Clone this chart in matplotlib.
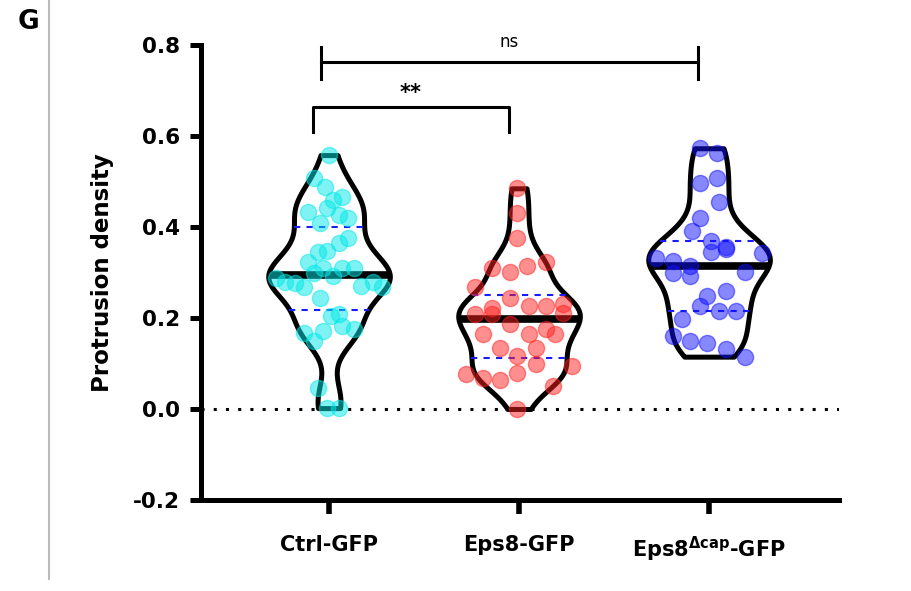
import numpy as np
import matplotlib
matplotlib.use("Agg")
from matplotlib import pyplot as plt
from matplotlib import cbook, mlab

# data
labels = ["Ctrl-GFP", "Eps8-GFP", r"Eps8$^{\Delta cap}$-GFP"]

ctrl = [0.558, 0.507, 0.487, 0.465, 0.459, 0.432, 0.441, 0.426, 0.419, 0.408,
        0.375, 0.364, 0.348, 0.344, 0.322, 0.309, 0.298, 0.309, 0.309, 0.293,
        0.287, 0.278, 0.276, 0.267, 0.271, 0.278, 0.267, 0.245, 0.205, 0.209,
        0.172, 0.183, 0.176, 0.168, 0.150, 0.046, 0.002, 0.002]
ctrl_dx = [0.0, -0.08, -0.02, 0.07, 0.02, -0.11, -0.01, 0.05, 0.10, -0.05,
           0.10, 0.05, -0.01, -0.06, -0.11, -0.03, -0.08, 0.07, 0.13, 0.02,
           -0.28, -0.23, -0.18, -0.13, 0.17, 0.23, 0.28, -0.05, 0.01, 0.05,
           -0.03, 0.07, 0.13, -0.13, -0.08, -0.06, -0.01, 0.05]

eps8 = [0.485, 0.430, 0.375, 0.309, 0.300, 0.315, 0.322, 0.267, 0.245, 0.223,
        0.227, 0.227, 0.231, 0.209, 0.209, 0.212, 0.187, 0.176, 0.165, 0.165,
        0.165, 0.135, 0.135, 0.117, 0.099, 0.095, 0.077, 0.068, 0.064, 0.079,
        0.051, 0.0]
eps8_dx = [-0.01, -0.01, -0.01, -0.14, -0.05, 0.04, 0.14, -0.23, -0.05, -0.14,
           0.05, 0.14, 0.23, -0.23, -0.14, 0.23, -0.05, 0.14, -0.19, 0.05,
           0.19, -0.10, 0.09, -0.01, 0.09, 0.28, -0.28, -0.19, -0.10, -0.01,
           0.18, -0.01]

dcap = [0.573, 0.562, 0.507, 0.496, 0.454, 0.419, 0.392, 0.370, 0.355, 0.344,
        0.351, 0.342, 0.331, 0.326, 0.315, 0.300, 0.298, 0.293, 0.260, 0.249,
        0.227, 0.216, 0.216, 0.198, 0.161, 0.150, 0.146, 0.132, 0.115]
dcap_dx = [-0.05, 0.04, 0.04, -0.05, 0.05, -0.05, -0.09, 0.01, 0.09, 0.01,
           0.09, 0.28, -0.28, -0.19, -0.10, 0.19, -0.19, -0.10, 0.09, -0.01,
           -0.05, 0.05, 0.14, -0.14, -0.19, -0.10, -0.01, 0.09, 0.19]

data = [ctrl, eps8, dcap]
jitter = [ctrl_dx, eps8_dx, dcap_dx]
colors = ["#00e8e8", "#ff2020", "#1010ff"]

plt.rcParams["mathtext.fontset"] = "dejavusans"
plt.rcParams["mathtext.default"] = "bf"

fig = plt.figure(figsize=(9.11, 5.91), dpi=100)
ax = fig.add_axes([0.2206, 0.154, 0.921 - 0.2206, 0.9239 - 0.154])

pos = np.arange(len(data))
width = 0.64


def kde(X, coords):
    return mlab.GaussianKDE(X, 0.33).evaluate(coords)


stats = cbook.violin_stats(data, kde, points=300)
parts = ax.violin(stats, positions=pos, widths=width,
                  showmeans=False, showextrema=False, showmedians=False)
for b in parts["bodies"]:
    b.set_facecolor("white")
    b.set_edgecolor("black")
    b.set_linewidth(3.6)
    b.set_alpha(1)
    b.set_joinstyle("round")

for i, st in enumerate(stats):
    coords = st["coords"]
    half = 0.5 * width * st["vals"] / st["vals"].max()
    med = np.median(data[i])
    q1, q3 = np.percentile(data[i], [25, 75])
    for q in (q1, q3):
        hw = np.interp(q, coords, half)
        ax.plot([i - hw, i + hw], [q, q], color="#1a1aff", lw=1.5,
                ls=(0, (3, 3)), zorder=3)
    hw = np.interp(med, coords, half)
    ax.plot([i - hw, i + hw], [med, med], color="black", lw=5.5,
            solid_capstyle="butt", zorder=3)

for i in range(len(data)):
    ax.scatter(i + np.array(jitter[i]), data[i], s=135, color=colors[i],
               alpha=0.5, edgecolors=colors[i], linewidths=1, zorder=4)

ax.axhline(0, color="black", lw=2.2, ls=(0, (1, 3)), zorder=1)

ax.set_xlim(-0.674, 2.684)
ax.set_ylim(-0.2, 0.8)
ax.set_yticks([-0.2, 0.0, 0.2, 0.4, 0.6, 0.8])
ax.set_yticklabels(["-0.2", "0.0", "0.2", "0.4", "0.6", "0.8"])
ax.set_xticks(pos)
ax.set_xticklabels(labels)

for s in ["top", "right"]:
    ax.spines[s].set_visible(False)
for s in ["left", "bottom"]:
    ax.spines[s].set_linewidth(3.6)
    ax.spines[s].set_capstyle("projecting")

ax.tick_params(axis="y", length=8, width=3.6, pad=7, labelsize=15.5)
ax.tick_params(axis="x", length=10, width=4, pad=15, labelsize=15)
for t in ax.get_yticklabels() + ax.get_xticklabels():
    t.set_fontweight("bold")

ax.set_ylabel("Protrusion density", fontsize=16.5, fontweight="bold", labelpad=14)

# significance brackets
ax.plot([-0.042, -0.042], [0.725, 0.796], color="black", lw=2.2, clip_on=False)
ax.plot([1.942, 1.942], [0.725, 0.796], color="black", lw=2.2, clip_on=False)
ax.plot([-0.042, 1.942], [0.763, 0.763], color="black", lw=2.2, clip_on=False)
ax.text(0.95, 0.807, "ns", ha="center", va="center", fontsize=12, clip_on=False)

ax.plot([-0.084, -0.084, 0.947, 0.947], [0.609, 0.664, 0.664, 0.609],
        color="black", lw=2.2, clip_on=False)
ax.text(0.43, 0.672, "**", ha="center", va="bottom", fontsize=15,
        fontweight="bold", clip_on=False)

fig.text(0.031, 0.963, "G", fontsize=19, fontweight="bold", ha="center", va="center")
fig.add_artist(plt.Line2D([0.0538, 0.0538], [0.02, 1.0], color="#bbbbbb", lw=1.5))

fig.savefig("out.png", dpi=100)
